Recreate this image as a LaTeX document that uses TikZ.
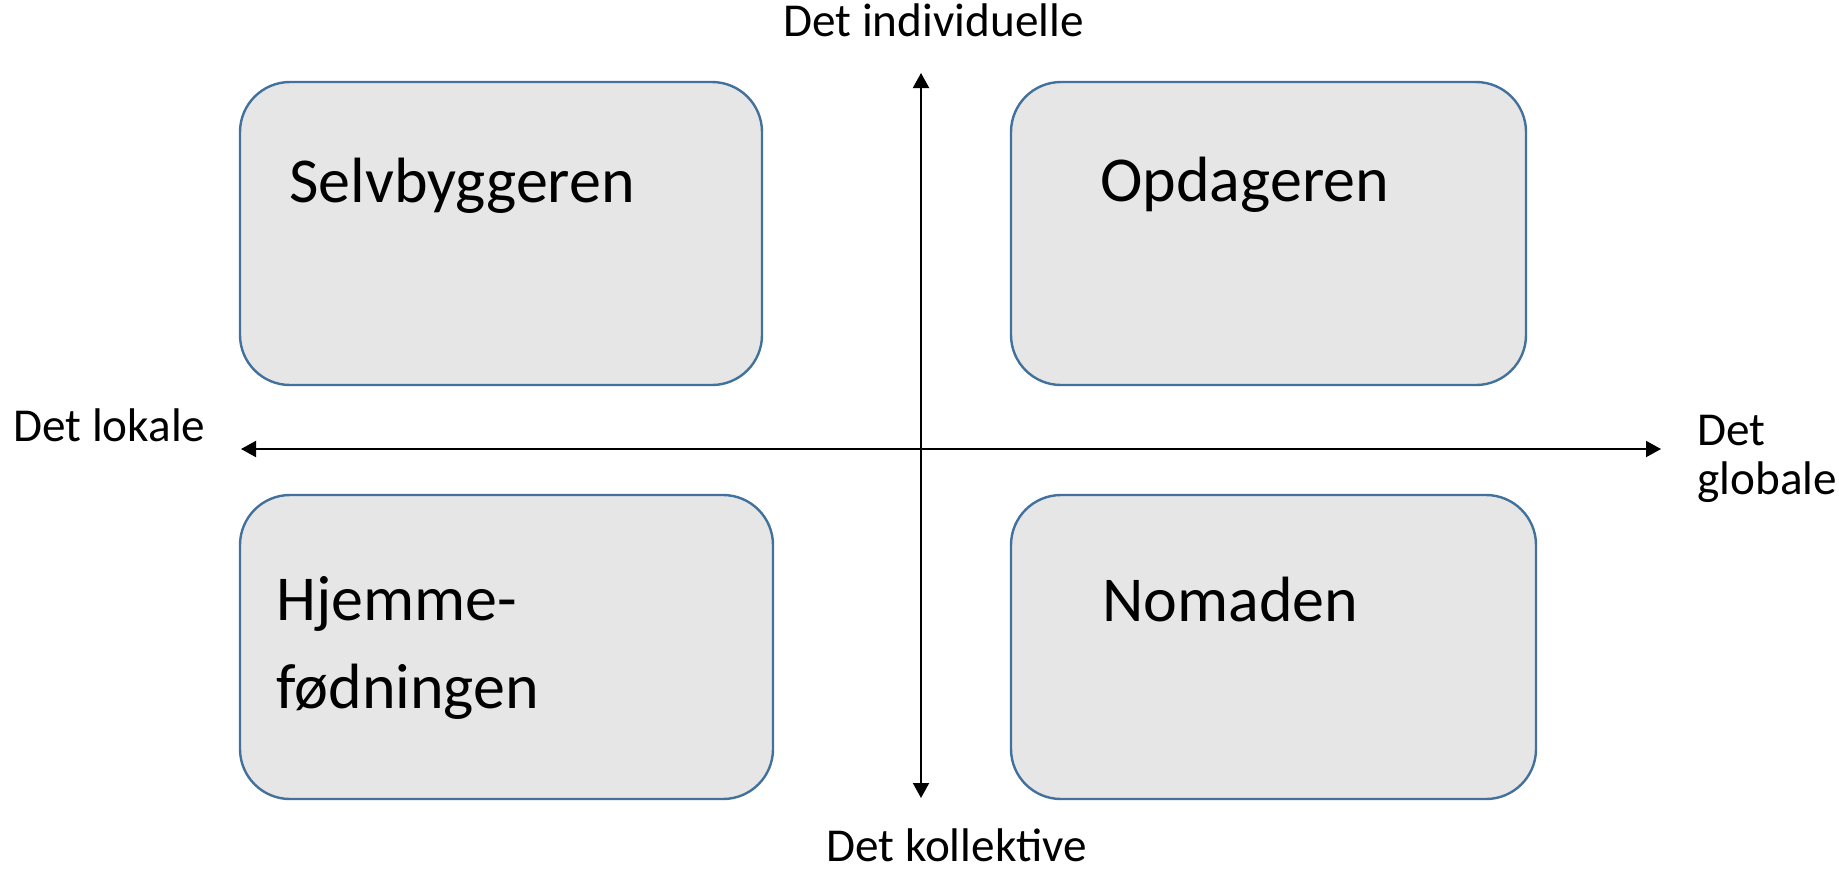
\documentclass[tikz,border=0pt]{standalone}
\usepackage{fontspec}
\setmainfont{Carlito}
\usetikzlibrary{arrows.meta}
\definecolor{boxfill}{HTML}{E6E6E6}
\definecolor{boxline}{HTML}{41719C}
\begin{document}
\begin{tikzpicture}[x=0.5pt,y=-0.5pt,
  quad/.style={draw=boxline,fill=boxfill,line width=1.2pt,rounded corners=25pt},
  bigtext/.style={anchor=base west,inner sep=0pt,align=left,font=\fontsize{32}{44}\selectfont},
  axlabel/.style={anchor=base west,inner sep=0pt,align=left,font=\fontsize{23.6}{24.5}\selectfont},
  axis/.style={line width=1pt,{Triangle[length=7.5pt,width=8pt]}-{Triangle[length=7.5pt,width=8pt]}}]
\useasboundingbox (0,0) rectangle (1839,868);
% quadrant boxes
\draw[quad] (240,82) rectangle (762,385);
\draw[quad] (1011,82) rectangle (1526,385);
\draw[quad] (240,495) rectangle (773,799);
\draw[quad] (1011,495) rectangle (1536,799);
% box texts
\node[bigtext] (selv) at (289,202) {Selvbyggeren};
\node[bigtext] (opd) at (1100,201) {Opdageren};
\node[bigtext] (hjem) at (276,708) {Hjemme-\\fødningen};
\node[bigtext] (nom) at (1102,621) {Nomaden};
% axis end points
\coordinate (top) at (921,73);
\coordinate (bot) at (921,798);
\coordinate (left) at (241,449);
\coordinate (right) at (1661,449);
\draw[axis] (bot) -- (top);
\draw[axis] (left) -- (right);
% axis labels
\node[axlabel] (ind) at (783,36) {Det individuelle};
\node[axlabel] (kol) at (826,861) {Det kollektive};
\node[axlabel] (lok) at (13,441) {Det lokale};
\node[axlabel] (glo) at (1697,494) {Det\\globale};
\end{tikzpicture}
\end{document}
